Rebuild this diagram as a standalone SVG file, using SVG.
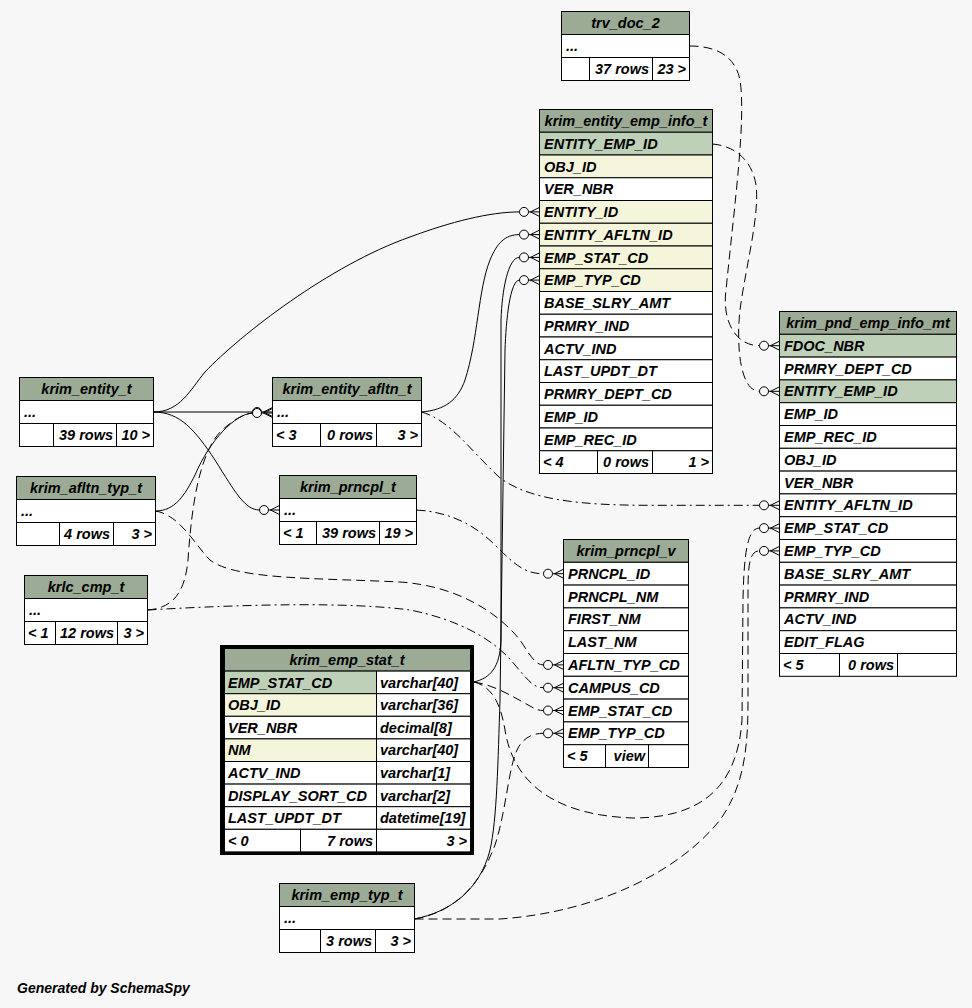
<svg xmlns="http://www.w3.org/2000/svg" xmlns:xlink="http://www.w3.org/1999/xlink" width="972" height="1008" viewBox="0 0 972 1008">
<style>
.bg{fill:#f7f7f7}
.h{fill:#9bab96;stroke:#000;stroke-width:1}
.pk{fill:#bed1b8;stroke:#000;stroke-width:1}
.ix{fill:#f5f5dc;stroke:#000;stroke-width:1}
.w{fill:#fff;stroke:#000;stroke-width:1}
text{font-family:"Liberation Sans",Arial,Helvetica,sans-serif;font-weight:bold;font-style:italic;font-size:14.5px;fill:#000}
.c{text-anchor:middle}
.r{text-anchor:end}
.cn path{fill:none;stroke:#000;stroke-width:1}
.d{stroke-dasharray:9,5}
.dd{stroke-dasharray:9,4,2,4}
</style>
<defs>
<g id="cf" fill="none" stroke="#000" stroke-width="1">
<circle cx="-15.5" cy="0" r="4.5" fill="#f7f7f7"/>
<path d="M-11,0 H0 M-9,0 L0,-4.5 M-9,0 L0,4.5"/>
</g>
</defs>
<rect class="bg" x="0" y="0" width="972" height="1008"/>

<g id="connectors" class="cn">
<path class="d" d="M689.5,46 C715,46 735,55 740,80 C746,120 735,200 726,290 C722,320 735,345.7 759.5,345.7"/>
<path class="d" d="M712.5,144 C735,146 752,160 756,185 C760,215 745,270 740,310 C736,345 740,391.3 759.5,391.3"/>
<path d="M153.5,412 C180,412 190,390 205,372 C240,335 330,265 410,237 C450,222 490,211.9 519.5,211.9"/>
<path d="M153.5,412 L252.5,412"/>
<path d="M153.5,412 C180,412 195,430 215,460 C235,492 245,510 259.5,510"/>
<path d="M155.5,511 C175,511 185,495 195,475 C210,440 235,414 252.5,413"/>
<path class="d" d="M147.5,610 C175,608 185,590 188,560 C192,500 200,455 220,432 C235,418 245,414 252.5,413"/>
<path class="d" d="M155.5,511 C180,515 195,545 210,560 C235,580 320,578 400,582 C460,586 500,615 520,640 C530,655 535,664.9 543.5,664.9"/>
<path class="dd" d="M147.5,610 C250,604 350,602 410,610 C460,620 495,640 515,665 C528,680 533,687.7 543.5,687.7"/>
<path class="dd" d="M416.5,510 C450,512 475,525 495,545 C515,565 525,573.7 543.5,573.7"/>
<path d="M421.5,412 C445,410 458,400 465,380 C478,340 478,290 490,260 C497,243 505,234.6 519.5,234.6"/>
<path class="dd" d="M421.5,412 C450,420 470,450 500,478 C530,500 580,505.3 650,505.3 L759.5,505.3"/>
<path d="M474,682 C490,678 500,668 501,640 L501,320 C502,290 508,257.4 519.5,257.4"/>
<path d="M414.5,919 C450,912 480,890 490,850 C497,820 498,760 500,700 L505,350 C506,320 510,280.1 519.5,280.1"/>
<path class="d" d="M474,682 C495,685 515,698 530,706 C535,709 538,710.5 543.5,710.5"/>
<path class="d" d="M414.5,919 C455,912 480,885 495,845 C505,815 508,775 515,755 C520,740 530,733.3 543.5,733.3"/>
<path class="d" d="M474,682 C490,686 500,700 505,730 C512,775 545,815 633,818 C708,818 738,780 742,720 L743,600 C744,550 748,528.1 759.5,528.1"/>
<path class="d" d="M414.5,919 L500,919 C600,912 680,870 720,820 C745,785 748,745 748,700 L748,600 C748,570 748,550.9 759.5,550.9"/>
<use xlink:href="#cf" href="#cf" x="539.5" y="211.9"/>
<use xlink:href="#cf" href="#cf" x="539.5" y="234.6"/>
<use xlink:href="#cf" href="#cf" x="539.5" y="257.4"/>
<use xlink:href="#cf" href="#cf" x="539.5" y="280.1"/>
<use xlink:href="#cf" href="#cf" x="779.5" y="345.7"/>
<use xlink:href="#cf" href="#cf" x="779.5" y="391.3"/>
<use xlink:href="#cf" href="#cf" x="779.5" y="505.3"/>
<use xlink:href="#cf" href="#cf" x="779.5" y="528.1"/>
<use xlink:href="#cf" href="#cf" x="779.5" y="550.9"/>
<use xlink:href="#cf" href="#cf" x="563.5" y="573.7"/>
<use xlink:href="#cf" href="#cf" x="563.5" y="664.9"/>
<use xlink:href="#cf" href="#cf" x="563.5" y="687.7"/>
<use xlink:href="#cf" href="#cf" x="563.5" y="710.5"/>
<use xlink:href="#cf" href="#cf" x="563.5" y="733.3"/>
<use xlink:href="#cf" href="#cf" x="272.5" y="412"/>
<use xlink:href="#cf" href="#cf" x="272.5" y="413"/>
<use xlink:href="#cf" href="#cf" x="279.5" y="510"/>
</g>

<g id="trv_doc_2">
<rect class="h" x="561.5" y="11.5" width="128" height="23"/>
<text class="c" x="625.5" y="28">trv_doc_2</text>
<rect class="w" x="561.5" y="34.5" width="128" height="23"/>
<text x="566" y="51">...</text>
<rect class="w" x="561.5" y="57.5" width="28" height="23"/>
<rect class="w" x="589.5" y="57.5" width="63" height="23"/>
<rect class="w" x="652.5" y="57.5" width="37" height="23"/>
<text class="r" x="649" y="74">37 rows</text>
<text class="r" x="686" y="74">23 &gt;</text>
</g>

<g id="krim_entity_emp_info_t">
<rect class="h" x="539.5" y="109.5" width="173" height="22.75"/>
<text class="c" x="626" y="126">krim_entity_emp_info_t</text>
<rect class="pk" x="539.5" y="132.25" width="173" height="22.75"/>
<text x="544" y="148.75">ENTITY_EMP_ID</text>
<rect class="ix" x="539.5" y="155" width="173" height="22.75"/>
<text x="544" y="171.5">OBJ_ID</text>
<rect class="w" x="539.5" y="177.75" width="173" height="22.75"/>
<text x="544" y="194.25">VER_NBR</text>
<rect class="ix" x="539.5" y="200.5" width="173" height="22.75"/>
<text x="544" y="217">ENTITY_ID</text>
<rect class="ix" x="539.5" y="223.25" width="173" height="22.75"/>
<text x="544" y="239.75">ENTITY_AFLTN_ID</text>
<rect class="ix" x="539.5" y="246" width="173" height="22.75"/>
<text x="544" y="262.5">EMP_STAT_CD</text>
<rect class="ix" x="539.5" y="268.75" width="173" height="22.75"/>
<text x="544" y="285.25">EMP_TYP_CD</text>
<rect class="w" x="539.5" y="291.5" width="173" height="22.75"/>
<text x="544" y="308">BASE_SLRY_AMT</text>
<rect class="w" x="539.5" y="314.25" width="173" height="22.75"/>
<text x="544" y="330.75">PRMRY_IND</text>
<rect class="w" x="539.5" y="337" width="173" height="22.75"/>
<text x="544" y="353.5">ACTV_IND</text>
<rect class="w" x="539.5" y="359.75" width="173" height="22.75"/>
<text x="544" y="376.25">LAST_UPDT_DT</text>
<rect class="w" x="539.5" y="382.5" width="173" height="22.75"/>
<text x="544" y="399">PRMRY_DEPT_CD</text>
<rect class="w" x="539.5" y="405.25" width="173" height="22.75"/>
<text x="544" y="421.75">EMP_ID</text>
<rect class="w" x="539.5" y="428" width="173" height="22.75"/>
<text x="544" y="444.5">EMP_REC_ID</text>
<rect class="w" x="539.5" y="450.75" width="58" height="22.75"/>
<rect class="w" x="597.5" y="450.75" width="55" height="22.75"/>
<rect class="w" x="652.5" y="450.75" width="60" height="22.75"/>
<text x="543" y="467.25">&lt; 4</text>
<text class="r" x="649" y="467.25">0 rows</text>
<text class="r" x="709" y="467.25">1 &gt;</text>
</g>

<g id="krim_pnd_emp_info_mt">
<rect class="h" x="779.5" y="311.5" width="177" height="22.8"/>
<text class="c" x="868" y="328">krim_pnd_emp_info_mt</text>
<rect class="pk" x="779.5" y="334.3" width="177" height="22.8"/>
<text x="784" y="350.8">FDOC_NBR</text>
<rect class="w" x="779.5" y="357.1" width="177" height="22.8"/>
<text x="784" y="373.6">PRMRY_DEPT_CD</text>
<rect class="pk" x="779.5" y="379.9" width="177" height="22.8"/>
<text x="784" y="396.4">ENTITY_EMP_ID</text>
<rect class="w" x="779.5" y="402.7" width="177" height="22.8"/>
<text x="784" y="419.2">EMP_ID</text>
<rect class="w" x="779.5" y="425.5" width="177" height="22.8"/>
<text x="784" y="442">EMP_REC_ID</text>
<rect class="w" x="779.5" y="448.3" width="177" height="22.8"/>
<text x="784" y="464.8">OBJ_ID</text>
<rect class="w" x="779.5" y="471.1" width="177" height="22.8"/>
<text x="784" y="487.6">VER_NBR</text>
<rect class="w" x="779.5" y="493.9" width="177" height="22.8"/>
<text x="784" y="510.4">ENTITY_AFLTN_ID</text>
<rect class="w" x="779.5" y="516.7" width="177" height="22.8"/>
<text x="784" y="533.2">EMP_STAT_CD</text>
<rect class="w" x="779.5" y="539.5" width="177" height="22.8"/>
<text x="784" y="556">EMP_TYP_CD</text>
<rect class="w" x="779.5" y="562.3" width="177" height="22.8"/>
<text x="784" y="578.8">BASE_SLRY_AMT</text>
<rect class="w" x="779.5" y="585.1" width="177" height="22.8"/>
<text x="784" y="601.6">PRMRY_IND</text>
<rect class="w" x="779.5" y="607.9" width="177" height="22.8"/>
<text x="784" y="624.4">ACTV_IND</text>
<rect class="w" x="779.5" y="630.7" width="177" height="22.8"/>
<text x="784" y="647.2">EDIT_FLAG</text>
<rect class="w" x="779.5" y="653.5" width="60" height="22.8"/>
<rect class="w" x="839.5" y="653.5" width="58" height="22.8"/>
<rect class="w" x="897.5" y="653.5" width="59" height="22.8"/>
<text x="783" y="670">&lt; 5</text>
<text class="r" x="894" y="670">0 rows</text>
</g>

<g id="krim_prncpl_v">
<rect class="h" x="563.5" y="539.5" width="125" height="22.8"/>
<text class="c" x="626" y="556">krim_prncpl_v</text>
<rect class="w" x="563.5" y="562.3" width="125" height="22.8"/>
<text x="568" y="578.8">PRNCPL_ID</text>
<rect class="w" x="563.5" y="585.1" width="125" height="22.8"/>
<text x="568" y="601.6">PRNCPL_NM</text>
<rect class="w" x="563.5" y="607.9" width="125" height="22.8"/>
<text x="568" y="624.4">FIRST_NM</text>
<rect class="w" x="563.5" y="630.7" width="125" height="22.8"/>
<text x="568" y="647.2">LAST_NM</text>
<rect class="w" x="563.5" y="653.5" width="125" height="22.8"/>
<text x="568" y="670">AFLTN_TYP_CD</text>
<rect class="w" x="563.5" y="676.3" width="125" height="22.8"/>
<text x="568" y="692.8">CAMPUS_CD</text>
<rect class="w" x="563.5" y="699.1" width="125" height="22.8"/>
<text x="568" y="715.6">EMP_STAT_CD</text>
<rect class="w" x="563.5" y="721.9" width="125" height="22.8"/>
<text x="568" y="738.4">EMP_TYP_CD</text>
<rect class="w" x="563.5" y="744.7" width="42" height="22.8"/>
<rect class="w" x="605.5" y="744.7" width="43" height="22.8"/>
<rect class="w" x="648.5" y="744.7" width="40" height="22.8"/>
<text x="567" y="761.2">&lt; 5</text>
<text class="r" x="645" y="761.2">view</text>
</g>

<g id="krim_entity_t">
<rect class="h" x="19.5" y="377.5" width="134" height="23"/>
<text class="c" x="86.5" y="394">krim_entity_t</text>
<rect class="w" x="19.5" y="400.5" width="134" height="23"/>
<text x="24" y="417">...</text>
<rect class="w" x="19.5" y="423.5" width="34" height="23"/>
<rect class="w" x="53.5" y="423.5" width="63" height="23"/>
<rect class="w" x="116.5" y="423.5" width="37" height="23"/>
<text class="r" x="113" y="440">39 rows</text>
<text class="r" x="150" y="440">10 &gt;</text>
</g>

<g id="krim_afltn_typ_t">
<rect class="h" x="16.5" y="476.5" width="139" height="23"/>
<text class="c" x="86" y="493">krim_afltn_typ_t</text>
<rect class="w" x="16.5" y="499.5" width="139" height="23"/>
<text x="21" y="516">...</text>
<rect class="w" x="16.5" y="522.5" width="43" height="23"/>
<rect class="w" x="59.5" y="522.5" width="54" height="23"/>
<rect class="w" x="113.5" y="522.5" width="42" height="23"/>
<text class="r" x="110" y="539">4 rows</text>
<text class="r" x="152" y="539">3 &gt;</text>
</g>

<g id="krlc_cmp_t">
<rect class="h" x="24.5" y="575.5" width="123" height="23"/>
<text class="c" x="86" y="592">krlc_cmp_t</text>
<rect class="w" x="24.5" y="598.5" width="123" height="23"/>
<text x="29" y="615">...</text>
<rect class="w" x="24.5" y="621.5" width="31" height="23"/>
<rect class="w" x="55.5" y="621.5" width="62" height="23"/>
<rect class="w" x="117.5" y="621.5" width="30" height="23"/>
<text x="28" y="638">&lt; 1</text>
<text class="r" x="114" y="638">12 rows</text>
<text class="r" x="144" y="638">3 &gt;</text>
</g>

<g id="krim_entity_afltn_t">
<rect class="h" x="272.5" y="377.5" width="149" height="23"/>
<text class="c" x="347" y="394">krim_entity_afltn_t</text>
<rect class="w" x="272.5" y="400.5" width="149" height="23"/>
<text x="277" y="417">...</text>
<rect class="w" x="272.5" y="423.5" width="48" height="23"/>
<rect class="w" x="320.5" y="423.5" width="56" height="23"/>
<rect class="w" x="376.5" y="423.5" width="45" height="23"/>
<text x="276" y="440">&lt; 3</text>
<text class="r" x="373" y="440">0 rows</text>
<text class="r" x="418" y="440">3 &gt;</text>
</g>

<g id="krim_prncpl_t">
<rect class="h" x="279.5" y="475.5" width="137" height="23"/>
<text class="c" x="348" y="492">krim_prncpl_t</text>
<rect class="w" x="279.5" y="498.5" width="137" height="23"/>
<text x="284" y="515">...</text>
<rect class="w" x="279.5" y="521.5" width="37" height="23"/>
<rect class="w" x="316.5" y="521.5" width="63" height="23"/>
<rect class="w" x="379.5" y="521.5" width="37" height="23"/>
<text x="283" y="538">&lt; 1</text>
<text class="r" x="376" y="538">39 rows</text>
<text class="r" x="413" y="538">19 &gt;</text>
</g>

<g id="krim_emp_stat_t">
<rect x="222" y="647" width="250" height="206" fill="none" stroke="#000" stroke-width="4"/>
<rect class="h" x="224.5" y="648.5" width="246" height="22.6"/>
<text class="c" x="347" y="665">krim_emp_stat_t</text>
<rect class="pk" x="224.5" y="671.1" width="152" height="22.6"/>
<rect class="w" x="376.5" y="671.1" width="94" height="22.6"/>
<text x="228" y="687.6">EMP_STAT_CD</text>
<text x="380" y="687.6">varchar[40]</text>
<rect class="ix" x="224.5" y="693.7" width="152" height="22.6"/>
<rect class="w" x="376.5" y="693.7" width="94" height="22.6"/>
<text x="228" y="710.2">OBJ_ID</text>
<text x="380" y="710.2">varchar[36]</text>
<rect class="w" x="224.5" y="716.3" width="152" height="22.6"/>
<rect class="w" x="376.5" y="716.3" width="94" height="22.6"/>
<text x="228" y="732.8">VER_NBR</text>
<text x="380" y="732.8">decimal[8]</text>
<rect class="ix" x="224.5" y="738.9" width="152" height="22.6"/>
<rect class="w" x="376.5" y="738.9" width="94" height="22.6"/>
<text x="228" y="755.4">NM</text>
<text x="380" y="755.4">varchar[40]</text>
<rect class="w" x="224.5" y="761.5" width="152" height="22.6"/>
<rect class="w" x="376.5" y="761.5" width="94" height="22.6"/>
<text x="228" y="778">ACTV_IND</text>
<text x="380" y="778">varchar[1]</text>
<rect class="w" x="224.5" y="784.1" width="152" height="22.6"/>
<rect class="w" x="376.5" y="784.1" width="94" height="22.6"/>
<text x="228" y="800.6">DISPLAY_SORT_CD</text>
<text x="380" y="800.6">varchar[2]</text>
<rect class="w" x="224.5" y="806.7" width="152" height="22.6"/>
<rect class="w" x="376.5" y="806.7" width="94" height="22.6"/>
<text x="228" y="823.2">LAST_UPDT_DT</text>
<text x="380" y="823.2">datetime[19]</text>
<rect class="w" x="224.5" y="829.3" width="76" height="22.6"/>
<rect class="w" x="300.5" y="829.3" width="76" height="22.6"/>
<rect class="w" x="376.5" y="829.3" width="94" height="22.6"/>
<text x="228" y="845.8">&lt; 0</text>
<text class="r" x="373" y="845.8">7 rows</text>
<text class="r" x="467" y="845.8">3 &gt;</text>
</g>

<g id="krim_emp_typ_t">
<rect class="h" x="279.5" y="883.5" width="135" height="23"/>
<text class="c" x="347" y="900">krim_emp_typ_t</text>
<rect class="w" x="279.5" y="906.5" width="135" height="23"/>
<text x="284" y="923">...</text>
<rect class="w" x="279.5" y="929.5" width="41" height="23"/>
<rect class="w" x="320.5" y="929.5" width="55" height="23"/>
<rect class="w" x="375.5" y="929.5" width="39" height="23"/>
<text class="r" x="372" y="946">3 rows</text>
<text class="r" x="411" y="946">3 &gt;</text>
</g>

<text x="17" y="993" style="font-size:14px">Generated by SchemaSpy</text>
</svg>
